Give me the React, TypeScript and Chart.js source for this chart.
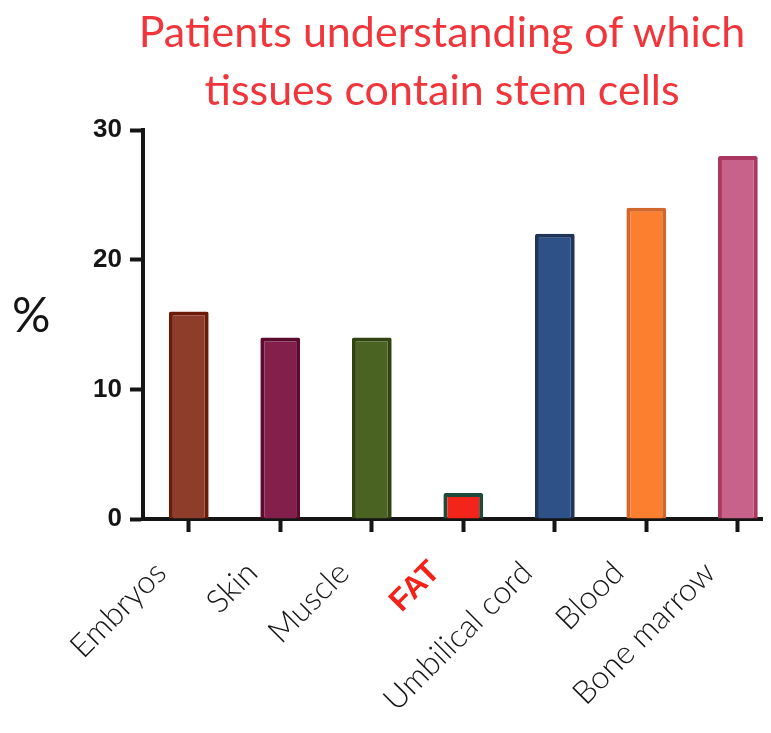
import React, { useEffect, useRef } from "react";
import { Chart, registerables } from "chart.js";

Chart.register(...registerables);

const titleLines = ["Patients understanding of which", "tissues contain stem cells"];
const yAxisLabel = "%";
const categories = ["Embryos", "Skin", "Muscle", "FAT", "Umbilical cord", "Blood", "Bone marrow"];
const percentages = [16, 14, 14, 2, 22, 24, 28];
const highlightedCategory = "FAT";
const yMin = 0;
const yMax = 30;
const yStep = 10;
const fillColors = ["#8f3d2b", "#82204b", "#4b6322", "#f3241a", "#2e5187", "#fc7f2f", "#c9628a"];
const borderColors = ["#6c1b09", "#5b0b2d", "#304310", "#1d4a3a", "#1f3659", "#d3662c", "#a9375f"];

const INK = "#151515";
const TITLE_RED = "#f0353b";

export default function App() {
  const canvasRef = useRef<HTMLCanvasElement | null>(null);

  useEffect(() => {
    const canvas = canvasRef.current;
    if (!canvas) return;
    const chart = new Chart(canvas, {
      type: "bar",
      data: {
        labels: categories,
        datasets: [
          {
            data: percentages,
            backgroundColor: fillColors,
            borderColor: borderColors,
            borderWidth: 4,
            borderRadius: 2,
            borderSkipped: "start",
            barPercentage: 1,
            categoryPercentage: 0.435,
          },
        ],
      },
      options: {
        animation: false,
        responsive: false,
        maintainAspectRatio: false,
        layout: { padding: { top: 130, right: 0, left: 0, bottom: 0 } },
        plugins: {
          legend: { display: false },
          tooltip: { enabled: false },
          title: { display: false },
        },
        scales: {
          x: {
            type: "category",
            offset: true,
            border: { display: true, color: INK, width: 4 },
            grid: {
              display: true,
              offset: false,
              drawOnChartArea: false,
              drawTicks: true,
              tickLength: 13,
              tickWidth: 4,
              tickColor: INK,
            },
            ticks: {
              autoSkip: false,
              maxRotation: 45,
              minRotation: 45,
              padding: 22,
              labelOffset: -28,
              color: (ctx: any) => (categories[ctx.index] === highlightedCategory ? "#f4231a" : INK),
              font: (ctx: any) =>
                categories[ctx.index] === highlightedCategory
                  ? { family: "Liberation Sans", weight: "bold", size: 31 }
                  : { family: "Lato", weight: "300", size: 32 },
            },
            afterFit: (s: any) => {
              s.height = 214;
            },
          },
          y: {
            min: yMin,
            max: yMax,
            border: { display: true, color: INK, width: 4 },
            grid: {
              display: true,
              drawOnChartArea: false,
              drawTicks: true,
              tickLength: 13,
              tickWidth: 4,
              tickColor: INK,
            },
            ticks: {
              stepSize: yStep,
              padding: 8,
              color: INK,
              font: { family: "Liberation Sans", weight: "bold", size: 26 },
            },
            afterFit: (s: any) => {
              s.width = 143;
            },
          },
        },
      },
    });
    return () => chart.destroy();
  }, []);

  return (
    <div
      style={{
        position: "relative",
        margin: -8,
        width: 771,
        height: 733,
        overflow: "hidden",
        background: "#ffffff",
      }}
    >
      <canvas
        ref={canvasRef}
        width={787}
        height={733}
        style={{ position: "absolute", left: 0, top: 0, width: 787, height: 733 }}
      />
      <div
        style={{
          position: "absolute",
          left: 0,
          top: 2,
          width: 884,
          textAlign: "center",
          color: TITLE_RED,
          fontFamily: "Lato",
          fontWeight: 400,
          fontSize: 43,
          lineHeight: "58px",
        }}
      >
        {titleLines.map((l) => (
          <div key={l}>{l}</div>
        ))}
      </div>
      <div
        style={{
          position: "absolute",
          left: 12,
          top: 290,
          color: INK,
          fontFamily: "Lato",
          fontWeight: 400,
          fontSize: 48,
          lineHeight: "48px",
        }}
      >
        {yAxisLabel}
      </div>
    </div>
  );
}
